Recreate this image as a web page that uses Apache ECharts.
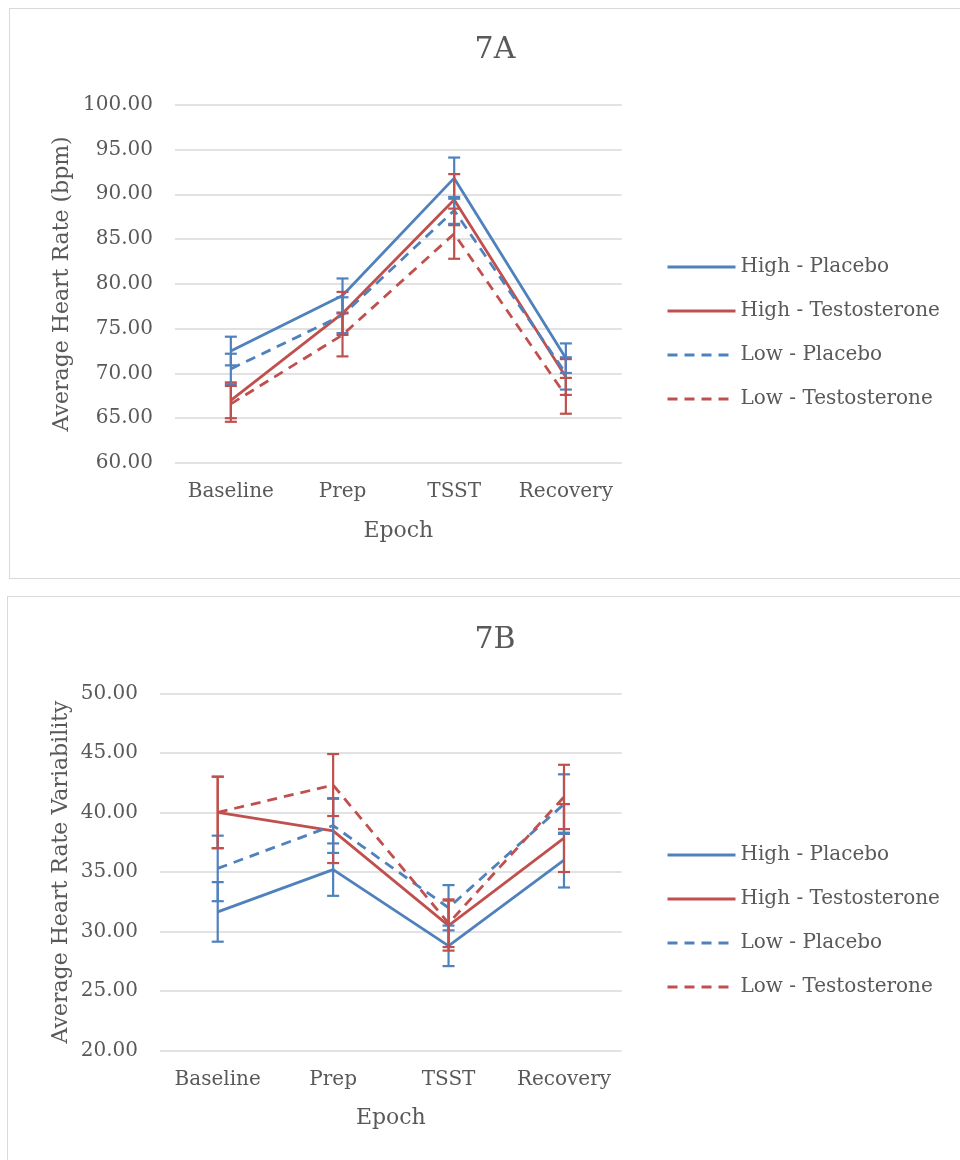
<!DOCTYPE html>
<html>
<head>
<meta charset="utf-8">
<title>7A / 7B</title>
<script src="https://cdn.jsdelivr.net/npm/echarts@6/dist/echarts.min.js"></script>
<style>
  html, body { margin: 0; padding: 0; background: #fff; overflow: hidden; }
  .panel { position: absolute; border: 1.5px solid #d9d9d9; box-sizing: border-box; }
  #chart { position: absolute; left: 0; top: 0; width: 960px; height: 1160px; }
</style>
</head>
<body>
<div class="panel" style="left:9px;top:8px;width:1000px;height:571px;"></div>
<div class="panel" style="left:7px;top:596px;width:1000px;height:620px;"></div>
<div id="chart"></div>
<script>
// epochs
var categories = ['Baseline', 'Prep', 'TSST', 'Recovery'];
var seriesNames = ['High - Placebo', 'High - Testosterone', 'Low - Placebo', 'Low - Testosterone'];

// 7A average heart rate (bpm) and error bar sizes
var hrHighPlacebo = [72.5, 78.7, 91.8, 71.7];
var hrHighPlaceboErr = [1.6, 1.9, 2.3, 1.65];
var hrHighTesto = [67.0, 76.7, 89.4, 69.6];
var hrHighTestoErr = [2.0, 2.4, 2.85, 2.0];
var hrLowPlacebo = [70.5, 76.5, 88.2, 70.0];
var hrLowPlaceboErr = [1.7, 2.0, 1.5, 1.8];
var hrLowTesto = [66.6, 74.3, 85.6, 67.5];
var hrLowTestoErr = [2.0, 2.4, 2.8, 2.0];

// 7B average heart rate variability
var hrvHighPlacebo = [31.65, 35.2, 28.8, 36.0];
var hrvHighPlaceboErr = [2.5, 2.2, 1.7, 2.3];
var hrvHighTesto = [40.0, 38.45, 30.5, 37.85];
var hrvHighTestoErr = [3.0, 2.7, 2.1, 2.85];
var hrvLowPlacebo = [35.3, 38.9, 32.0, 40.7];
var hrvLowPlaceboErr = [2.75, 2.3, 1.9, 2.5];
var hrvLowTesto = [40.0, 42.3, 30.7, 41.3];
var hrvLowTestoErr = [3.0, 2.6, 2.0, 2.7];

var blue = '#4f81bd', red = '#c0504d', txt = '#595959', grid = '#d9d9d9';
var font = 'DejaVu Serif';
var colors = [blue, red, blue, red];
var dashes = ['solid', 'solid', [10, 7], [10, 7]];

var errData = function(vals, errs) {
    return vals.map(function(v, i) { return [i, v - errs[i], v + errs[i]]; });
};

var errRender = function(color) {
    return function(params, api) {
        var top = api.coord([api.value(0), api.value(2)]);
        var bot = api.coord([api.value(0), api.value(1)]);
        var w = 6;
        var st = { stroke: color, lineWidth: 2.2 };
        return {
            type: 'group',
            children: [
                { type: 'line', shape: { x1: top[0], y1: top[1], x2: bot[0], y2: bot[1] }, style: st },
                { type: 'line', shape: { x1: top[0] - w, y1: top[1], x2: top[0] + w, y2: top[1] }, style: st },
                { type: 'line', shape: { x1: bot[0] - w, y1: bot[1], x2: bot[0] + w, y2: bot[1] }, style: st }
            ]
        };
    };
};

var makeSeries = function(idx, vals, errs) {
    var out = [];
    vals.forEach(function(v, k) {
        out.push({
            name: seriesNames[k],
            type: 'line',
            xAxisIndex: idx, yAxisIndex: idx,
            data: v,
            symbol: 'none',
            color: colors[k],
            lineStyle: { color: colors[k], width: 2.8, type: dashes[k] },
            z: 3
        });
    });
    errs.forEach(function(e, k) {
        out.push({
            name: 'err' + idx + '_' + k,
            type: 'custom',
            xAxisIndex: idx, yAxisIndex: idx,
            renderItem: errRender(colors[k]),
            encode: { x: 0, y: [1, 2] },
            data: errData(vals[k], e),
            z: 4
        });
    });
    return out;
};

var yAxisBase = function(idx, min, max, name, gap) {
    return {
        type: 'value', gridIndex: idx, min: min, max: max, interval: 5,
        name: name, nameLocation: 'middle', nameGap: gap,
        nameTextStyle: { fontFamily: font, fontSize: 22, color: txt },
        axisLine: { show: false }, axisTick: { show: false },
        axisLabel: { fontFamily: font, fontSize: 20, color: txt, margin: 22,
            formatter: function(v) { return v.toFixed(2); } },
        splitLine: { lineStyle: { color: grid, width: 1.5 } }
    };
};

var xAxisBase = function(idx) {
    return {
        type: 'category', gridIndex: idx, data: categories,
        name: 'Epoch', nameLocation: 'middle', nameGap: 57,
        nameTextStyle: { fontFamily: font, fontSize: 22, color: txt },
        axisLine: { show: false }, axisTick: { show: false },
        axisLabel: { interval: 0, fontFamily: font, fontSize: 20, color: txt, margin: 19 }
    };
};

var legendBase = function(top) {
    return {
        orient: 'vertical', left: 661, top: top,
        data: seriesNames,
        itemWidth: 68, itemHeight: 14, itemGap: 20,
        itemStyle: { opacity: 0 },
        lineStyle: { width: 3 },
        textStyle: { fontFamily: font, fontSize: 20, color: txt, lineHeight: 24 }
    };
};

var myChart = echarts.init(document.getElementById('chart'));
myChart.setOption({
    animation: false,
    backgroundColor: 'transparent',
    title: [
        { text: '7A', left: 490, top: 30, textAlign: 'center',
          textStyle: { fontFamily: font, fontSize: 30, fontWeight: 'normal', color: txt } },
        { text: '7B', left: 490, top: 620, textAlign: 'center',
          textStyle: { fontFamily: font, fontSize: 30, fontWeight: 'normal', color: txt } }
    ],
    legend: [ legendBase(250), legendBase(838) ],
    grid: [
        { left: 175, width: 446.7, top: 104.7, height: 358.3 },
        { left: 160, width: 461.7, top: 693.3, height: 357.4 }
    ],
    xAxis: [ xAxisBase(0), xAxisBase(1) ],
    yAxis: [
        yAxisBase(0, 60, 100, 'Average Heart Rate (bpm)', 102),
        yAxisBase(1, 20, 50, 'Average Heart Rate Variability', 88)
    ],
    series: makeSeries(0,
            [hrHighPlacebo, hrHighTesto, hrLowPlacebo, hrLowTesto],
            [hrHighPlaceboErr, hrHighTestoErr, hrLowPlaceboErr, hrLowTestoErr])
        .concat(makeSeries(1,
            [hrvHighPlacebo, hrvHighTesto, hrvLowPlacebo, hrvLowTesto],
            [hrvHighPlaceboErr, hrvHighTestoErr, hrvLowPlaceboErr, hrvLowTestoErr]))
});
</script>
</body>
</html>
